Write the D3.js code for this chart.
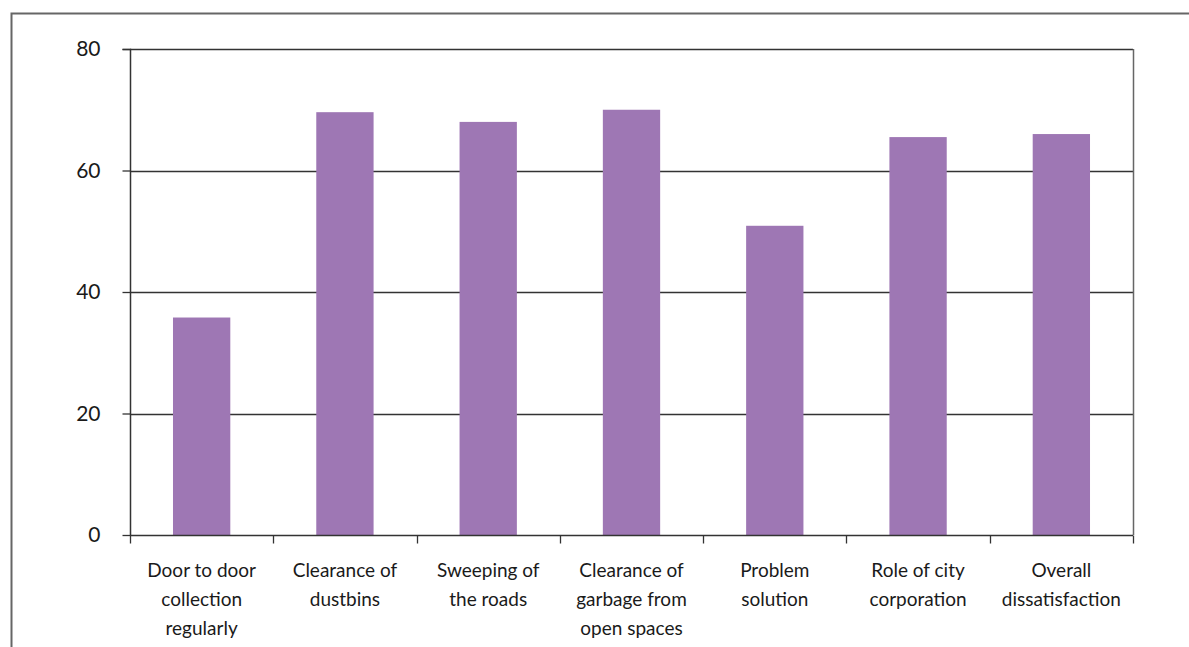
<!DOCTYPE html>
<html>
<head>
<meta charset="utf-8">
<script src="https://cdn.jsdelivr.net/npm/d3@7"></script>
<style>
  html, body { margin: 0; padding: 0; background: #fff; }
  svg { display: block; }
  text { font-family: Lato, "Open Sans", sans-serif; fill: #1a1a1a; }
</style>
</head>
<body>
<svg id="chart" width="1189" height="647"></svg>
<script>
// Dissatisfaction with waste management services (%)
const categories = [
  ["Door to door", "collection", "regularly"],
  ["Clearance of", "dustbins"],
  ["Sweeping of", "the roads"],
  ["Clearance of", "garbage from", "open spaces"],
  ["Problem", "solution"],
  ["Role of city", "corporation"],
  ["Overall", "dissatisfaction"]
];
const values = [35.8, 69.6, 68.0, 70.0, 50.9, 65.5, 66.0];
const yTicks = [0, 20, 40, 60, 80];

const svg = d3.select("#chart");
const plot = { left: 130, top: 49, right: 1133, bottom: 535 };

// outer frame
svg.append("rect")
  .attr("x", 11.5).attr("y", 13.5)
  .attr("width", 1200).attr("height", 700)
  .attr("fill", "none").attr("stroke", "#666").attr("stroke-width", 2);

const x = d3.scaleBand()
  .domain(d3.range(categories.length))
  .range([plot.left, plot.right])
  .paddingInner(0.6).paddingOuter(0.3);

const xBoundaries = d3.scaleLinear()
  .domain([0, categories.length])
  .range([plot.left, plot.right]);

const y = d3.scaleLinear().domain([0, 80]).range([plot.bottom, plot.top]);

// horizontal gridlines
svg.append("g")
  .selectAll("line")
  .data(yTicks.filter(t => t > 0))
  .join("line")
  .attr("x1", plot.left).attr("x2", plot.right)
  .attr("y1", d => Math.round(y(d)) + 0.5).attr("y2", d => Math.round(y(d)) + 0.5)
  .attr("stroke", "#333").attr("stroke-width", 1.3);

// bars
svg.append("g")
  .selectAll("rect")
  .data(values)
  .join("rect")
  .attr("x", (d, i) => x(i))
  .attr("width", x.bandwidth())
  .attr("y", d => y(d))
  .attr("height", d => y(0) - y(d))
  .attr("fill", "#9e77b4");

// right border of plot area
svg.append("line")
  .attr("x1", plot.right + 0.5).attr("x2", plot.right + 0.5)
  .attr("y1", plot.top).attr("y2", plot.bottom)
  .attr("stroke", "#666").attr("stroke-width", 1.5);

// y axis
const yAxis = d3.axisLeft(y).tickValues(yTicks).tickSize(8).tickPadding(22);
const gy = svg.append("g").attr("transform", `translate(${plot.left + 0.5},0)`).call(yAxis);
gy.select(".domain").attr("stroke", "#333").attr("stroke-width", 1.5).attr("d", `M-8,${plot.top + 0.5}H0V${plot.bottom}`);
gy.selectAll(".tick line").attr("stroke", "#333").attr("stroke-width", 1.3);
gy.selectAll(".tick text")
  .style("font-family", "Lato, 'Open Sans', sans-serif")
  .attr("font-size", 21).attr("fill", "#1a1a1a");

// x axis with ticks at category boundaries
const gx = svg.append("g").attr("transform", `translate(0,${plot.bottom + 0.5})`);
gx.append("line")
  .attr("x1", plot.left).attr("x2", plot.right)
  .attr("stroke", "#333").attr("stroke-width", 1.5);
gx.selectAll("line.tick")
  .data(d3.range(categories.length + 1))
  .join("line")
  .attr("class", "tick")
  .attr("x1", d => Math.round(xBoundaries(d)) + 0.5)
  .attr("x2", d => Math.round(xBoundaries(d)) + 0.5)
  .attr("y1", 0).attr("y2", 8)
  .attr("stroke", "#333").attr("stroke-width", 1.3);

// category labels
gx.selectAll("text.cat")
  .data(categories)
  .join("text")
  .attr("class", "cat")
  .attr("text-anchor", "middle")
  .attr("font-size", 19)
  .attr("transform", (d, i) => `translate(${x(i) + x.bandwidth() / 2},0)`)
  .selectAll("tspan")
  .data(d => d)
  .join("tspan")
  .attr("x", 0)
  .attr("y", (d, j) => 41 + j * 29)
  .text(d => d);
</script>
</body>
</html>
